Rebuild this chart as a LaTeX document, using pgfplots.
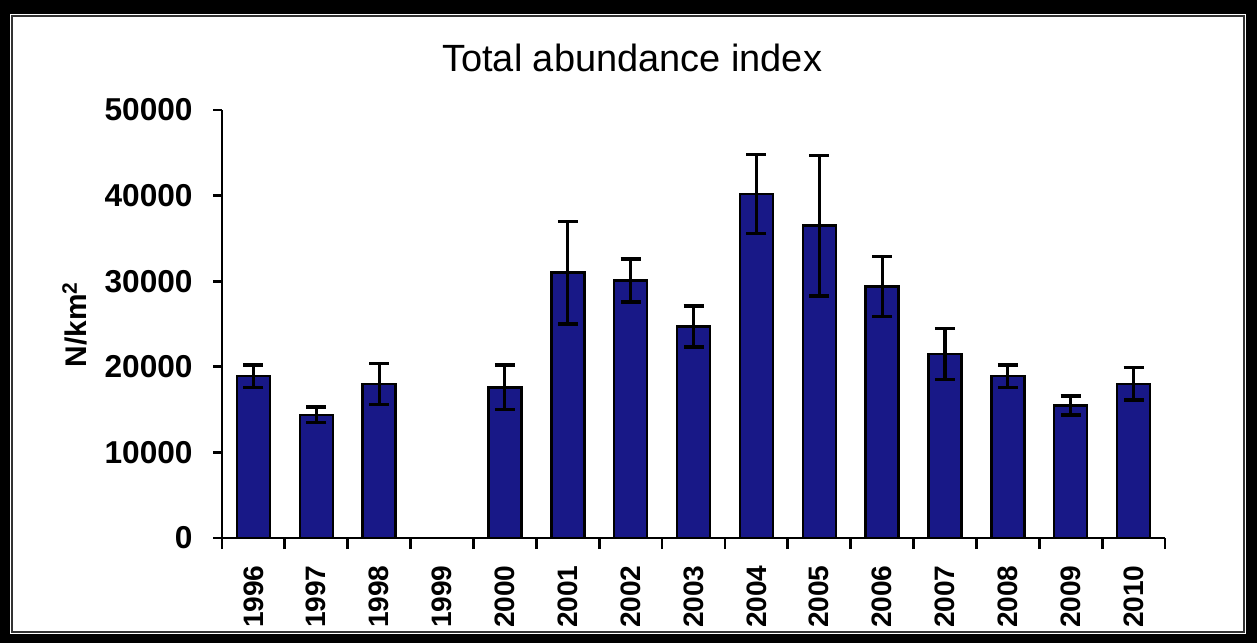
\documentclass[border=0pt]{standalone}
\usepackage{pgfplots}
\pgfplotsset{compat=1.18}
\usepackage{fontspec}
\setmainfont{Liberation Sans}
\definecolor{barblue}{RGB}{24,24,135}

\begin{document}
\begin{tikzpicture}
% photo background and white sheet
\fill[black] (0,0) rectangle (125.7mm,64.3mm);
\fill[white] (1.0mm,0.9mm) rectangle (124.6mm,62.9mm);
\draw[black!80,line width=0.6pt] (1.2mm,1.1mm) rectangle (124.4mm,62.7mm);
\begin{axis}[
    at={(22.2mm,10.5mm)}, anchor=south west,
    scale only axis,
    width=94.3mm, height=42.8mm,
    xmin=-0.5, xmax=14.5,
    ymin=0, ymax=50000,
    axis x line=bottom, axis y line=left,
    axis line style={-, line width=0.8pt},
    xtick={0,...,14},
    xticklabels={1996,1997,1998,1999,2000,2001,2002,2003,2004,2005,2006,2007,2008,2009,2010},
    minor xtick={-0.5,0.5,...,14.5},
    major x tick style={draw=none},
    minor tick length=1.1mm,
    ytick={0,10000,...,50000},
    major tick length=0.9mm,
    tick align=outside,
    tick style={black, line width=0.8pt},
    /pgf/number format/assume math mode=true,
    scaled y ticks=false,
    yticklabel style={/pgf/number format/fixed, /pgf/number format/1000 sep={},
        font=\fontsize{9}{10}\selectfont\bfseries, xshift=-0.8mm},
    xticklabel style={rotate=90, anchor=east, font=\fontsize{8}{9}\selectfont\bfseries, yshift=0mm, xshift=-0.6mm},
    title={Total abundance index},
    title style={at={(axis description cs:0.435,1)}, anchor=base, yshift=1.7mm,
        font=\fontsize{10.8}{12}\selectfont},
    ylabel={N/km$^{\mathbf{2}}$},
    ylabel style={at={(axis description cs:-0.156,0.5)}, anchor=center,
        font=\fontsize{8.5}{10}\selectfont\bfseries},
    clip=false,
]
\addplot[ybar, bar width=3.3mm, fill=barblue, draw=black, line width=0.7pt,
    error bars/.cd, y dir=both, y explicit,
    error bar style={black, line width=0.9pt},
    error mark options={black, rotate=90, mark size=1mm, line width=1pt}]
coordinates {
    (0,18900) +- (0,1300)
    (1,14400) +- (0,900)
    (2,18000) +- (0,2400)
    (4,17600) +- (0,2600)
    (5,31000) +- (0,6000)
    (6,30100) +- (0,2500)
    (7,24700) +- (0,2400)
    (8,40200) +- (0,4600)
    (9,36500) +- (0,8200)
    (10,29400) +- (0,3500)
    (11,21500) +- (0,3000)
    (12,18900) +- (0,1300)
    (13,15500) +- (0,1100)
    (14,18000) +- (0,1900)
};
\end{axis}
\end{tikzpicture}
\end{document}
